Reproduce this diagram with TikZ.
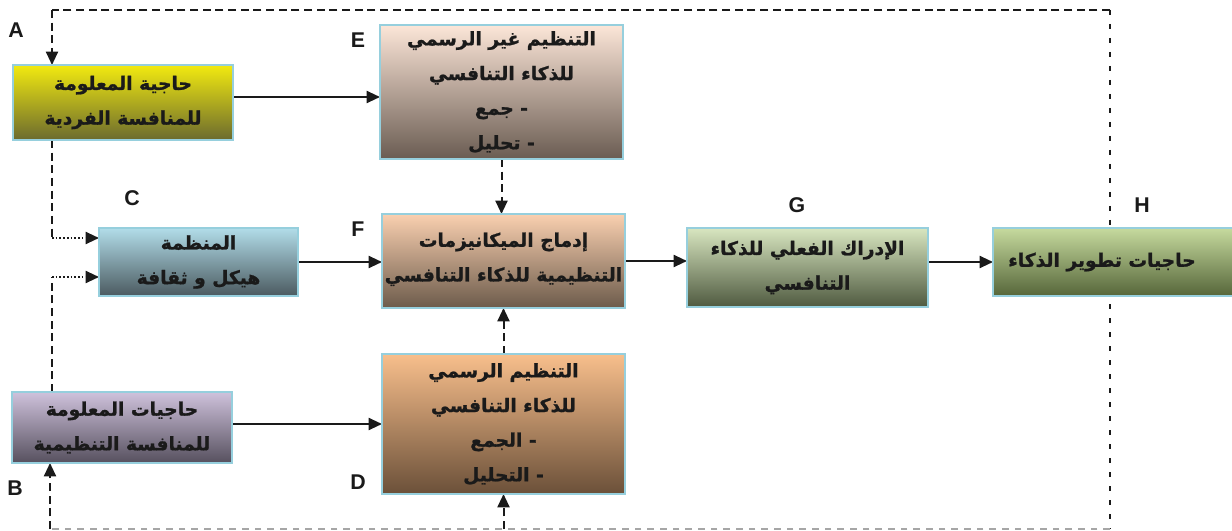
\documentclass[tikz,border=0pt]{standalone}
\usepackage{fontspec}
\setmainfont{Liberation Sans}
\newfontfamily\arabicfont[Script=Arabic, FakeBold=1.2]{DejaVu Sans Bold}
\TeXXeTstate=1
\usetikzlibrary{arrows.meta}
\newcommand\rtl[1]{\beginR #1\endR}
\pgfdeclarelayer{bg}
\pgfsetlayers{bg,main}
\definecolor{boxline}{HTML}{96CFDD}
\definecolor{txt}{HTML}{1A1A1A}
\definecolor{graydash}{HTML}{A6A6A6}
% box gradients (top / bottom)
\definecolor{aTop}{HTML}{F2EA10}\definecolor{aBot}{HTML}{6B6A2E}
\definecolor{eTop}{HTML}{FCE6D8}\definecolor{eBot}{HTML}{6A5C52}
\definecolor{cTop}{HTML}{B2DDE9}\definecolor{cBot}{HTML}{4B5A60}
\definecolor{fTop}{HTML}{FAD0B0}\definecolor{fBot}{HTML}{6C5B4B}
\definecolor{gTop}{HTML}{D8E6C0}\definecolor{gBot}{HTML}{4F5A40}
\definecolor{hTop}{HTML}{C6DA9E}\definecolor{hBot}{HTML}{56663A}
\definecolor{bTop}{HTML}{CFC2DC}\definecolor{bBot}{HTML}{56505E}
\definecolor{dTop}{HTML}{F8BF8C}\definecolor{dBot}{HTML}{6B5039}
\begin{document}
\begin{tikzpicture}[x=0.75pt,y=-0.75pt,
  box/.style={draw=boxline, line width=1.2pt, anchor=north west, inner sep=0pt,
    outer sep=0pt, align=center, text=txt,
    font=\arabicfont\fontsize{14}{26}\selectfont},
  boxtext/.style={align=center, text=txt, inner sep=0pt,
    font=\arabicfont\fontsize{14}{26}\selectfont},
  letter/.style={font=\bfseries\fontsize{16}{16}\selectfont, text=txt},
  flow/.style={line width=1.5pt, draw=txt, -{Triangle[length=10pt,width=9pt]}},
  dashflow/.style={line width=1.5pt, draw=txt, dash pattern=on 6pt off 3.5pt,
    -{Triangle[length=10pt,width=9pt]}},
  dashl/.style={line width=1.5pt, draw=txt, dash pattern=on 6pt off 3.5pt},
  dashv/.style={line width=1.5pt, draw=txt, dash pattern=on 4pt off 6.5pt},
  dashg/.style={line width=1.2pt, draw=graydash, dash pattern=on 5pt off 4.5pt},
  dotflow/.style={line width=1.5pt, draw=txt, dash pattern=on 1.2pt off 1.6pt,
    -{Triangle[length=10pt,width=9pt]}}
]
\path[use as bounding box, clip] (0,0) rectangle (1232,531);

% boxes
\node[box, top color=aTop, bottom color=aBot, minimum width=165pt, minimum height=56.25pt] (a) at (13,65)
  {\rtl{حاجية المعلومة}\\\rtl{للمنافسة الفردية}};
\node[box, top color=eTop, bottom color=eBot, minimum width=182.25pt, minimum height=100.5pt] (e) at (380,25)
  {\rtl{التنظيم غير الرسمي}\\\rtl{للذكاء التنافسي}\\\rtl{-  جمع}\\\rtl{- تحليل}};
\node[box, top color=cTop, bottom color=cBot, minimum width=149.25pt, minimum height=51pt] (c) at (99,228)
  {\rtl{المنظمة}\\\rtl{هيكل و ثقافة}};
\node[box, top color=fTop, bottom color=fBot, minimum width=182.25pt, minimum height=70.5pt,
  text depth=6pt] (f) at (382,214)
  {\rtl{إدماج الميكانيزمات}\\\rtl{التنظيمية للذكاء التنافسي}};
\node[box, top color=gTop, bottom color=gBot, minimum width=180.75pt, minimum height=59.25pt] (g) at (687,228)
  {\rtl{الإدراك الفعلي للذكاء}\\\rtl{التنافسي}};
\node[box, top color=hTop, bottom color=hBot, minimum width=190pt, minimum height=51pt] (h) at (993,228) {};
\node[boxtext] (ht) at (1102,262) {\rtl{حاجيات تطوير الذكاء}};
\node[box, top color=bTop, bottom color=bBot, minimum width=165pt, minimum height=53.25pt] (b) at (12,392)
  {\rtl{حاجيات  المعلومة}\\\rtl{للمنافسة التنظيمية}};
\node[box, top color=dTop, bottom color=dBot, minimum width=182.25pt, minimum height=105pt] (d) at (382,354)
  {\rtl{التنظيم الرسمي}\\\rtl{للذكاء التنافسي}\\\rtl{-  الجمع}\\\rtl{- التحليل}};

% letters
\node[letter] (la) at (16,30) {A};
\node[letter] (le) at (358,40) {E};
\node[letter] (lc) at (132,198) {C};
\node[letter] (lf) at (358,229) {F};
\node[letter] (lg) at (797,205) {G};
\node[letter] (lh) at (1142,205) {H};
\node[letter] (lb) at (15,488) {B};
\node[letter] (ld) at (358,482) {D};

% free ends of the feedback loop
\coordinate (tr) at (1110,10);
\coordinate (br) at (1110,529);
\coordinate (lt) at (52,10);
\coordinate (lbot) at (50,529);
\coordinate (ca) at (52,238);
\coordinate (cb) at (52,277);
\coordinate (ae) at (0,97);

\begin{pgfonlayer}{bg}
  % solid flows
  \draw[flow] (ae -| a.east) -- (ae -| e.west);
  \draw[flow] (c.east) -- (c.east -| f.west);
  \draw[flow] (f.east) -- (f.east -| g.west);
  \draw[flow] (h.west -| g.east) -- (h.west);
  \draw[flow] (d.west -| b.east) -- (d.west);
  % dashed inputs to F
  \draw[dashflow] (e.south) -- (e.south |- f.north);
  \draw[dashflow] (d.north) -- (d.north |- f.south);
  % feedback loop
  \draw[dashl] (tr) -- (lt);
  \draw[dashflow] (lt) -- (a.north -| lt);
  \draw[dashv] (tr) -- (br);
  \draw[dashg] (br) -- (lbot);
  \draw[dashflow] (lbot) -- (b.south -| lbot);
  \draw[dashflow] (br -| d.south) -- (d.south);
  % links to the organisation
  \draw[dashl] (a.south -| ca) -- (ca);
  \draw[dotflow] (ca) -- (ca -| c.west);
  \draw[dashl] (b.north -| cb) -- (cb);
  \draw[dotflow] (cb) -- (cb -| c.west);
\end{pgfonlayer}
\end{tikzpicture}
\end{document}
